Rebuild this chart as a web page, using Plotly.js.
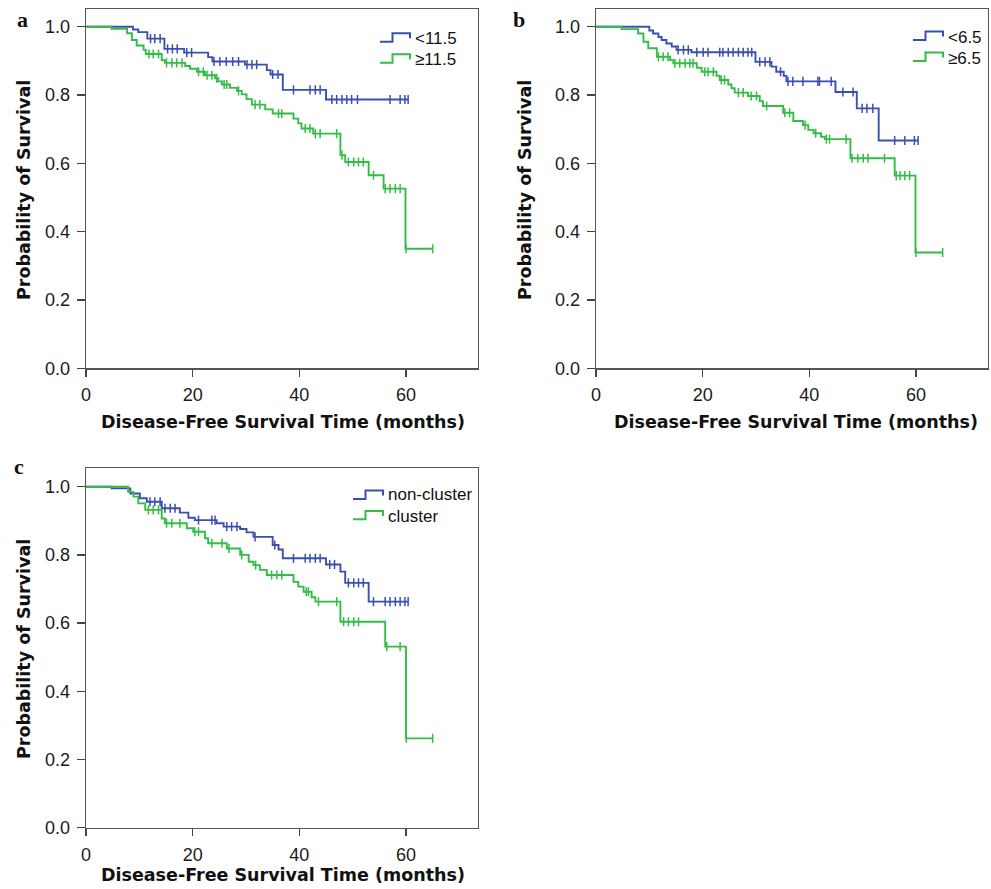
<!DOCTYPE html>
<html>
<head>
<meta charset="utf-8">
<script src="https://cdn.plot.ly/plotly-3.0.1.min.js"></script>
<style>html,body{margin:0;padding:0;background:#fff;}#chart{width:991px;height:889px;}</style>
</head>
<body>
<div id="chart"></div>
<script>
// ---------- Data ----------
// Panel a: <11.5 (blue) and >=11.5 (green)
const aLowTimes = [8.8, 9.8, 11.5, 14.7, 18.4, 22.9, 23.7, 29.8, 33.9, 34.6, 36.9, 45.0];
const aLowSurv  = [0.992, 0.984, 0.965, 0.935, 0.924, 0.911, 0.898, 0.889, 0.873, 0.860, 0.815, 0.787];
const aLowCens  = [12.1, 12.9, 13.9, 15.3, 16.2, 17.1, 18.9, 19.8, 24.0, 25.1, 26.3, 27.5, 28.6, 30.2, 31.1, 32.0, 35.0, 36.0, 38.9, 42.0, 43.0, 43.9, 46.1, 47.0, 48.0, 48.9, 49.8, 50.9, 57.0, 58.9, 59.8, 60.4];
const aHighTimes = [4.8, 7.7, 8.6, 9.5, 10.8, 11.2, 14.2, 14.8, 18.6, 19.5, 20.8, 22.3, 24.2, 24.8, 25.5, 27.0, 28.3, 29.2, 30.1, 31.1, 33.6, 35.0, 38.9, 39.8, 40.4, 42.6, 47.7, 48.6, 53.0, 55.8, 59.9];
const aHighSurv  = [0.994, 0.981, 0.961, 0.945, 0.932, 0.920, 0.902, 0.894, 0.885, 0.877, 0.868, 0.858, 0.849, 0.840, 0.831, 0.821, 0.812, 0.802, 0.788, 0.772, 0.758, 0.746, 0.731, 0.717, 0.702, 0.687, 0.624, 0.604, 0.565, 0.526, 0.350];
const aHighCens  = [11.8, 12.6, 13.6, 15.1, 16.1, 17.0, 18.0, 21.1, 22.0, 22.7, 23.6, 24.5, 25.9, 26.4, 28.6, 31.7, 32.6, 36.1, 36.7, 41.1, 42.0, 43.0, 43.9, 47.0, 48.0, 49.2, 50.2, 51.1, 52.0, 53.9, 56.1, 57.0, 58.0, 58.9, 60.0, 65.0];

// Panel b: <6.5 (blue) and >=6.5 (green)
const bLowTimes = [10.0, 10.7, 11.7, 12.3, 13.2, 14.2, 15.1, 17.9, 29.9, 32.9, 33.8, 35.2, 35.7, 44.9, 48.9, 53.0];
const bLowSurv  = [0.989, 0.980, 0.970, 0.961, 0.951, 0.942, 0.932, 0.925, 0.897, 0.883, 0.868, 0.856, 0.840, 0.809, 0.761, 0.667];
const bLowCens  = [15.4, 16.4, 17.3, 18.9, 20.1, 21.0, 23.2, 23.8, 24.8, 25.7, 26.7, 27.6, 28.5, 29.2, 30.7, 31.7, 32.6, 34.6, 36.0, 36.9, 38.8, 41.6, 41.9, 44.1, 46.3, 48.2, 49.9, 50.8, 51.9, 56.0, 57.9, 59.7, 60.4];
const bHighTimes = [4.8, 7.9, 8.9, 9.8, 11.4, 13.9, 14.5, 18.9, 19.8, 22.6, 23.2, 24.8, 25.4, 26.0, 28.5, 30.7, 31.3, 35.1, 37.0, 38.8, 39.8, 40.8, 42.2, 42.9, 47.7, 56.0, 59.9];
const bHighSurv  = [0.993, 0.980, 0.956, 0.937, 0.912, 0.902, 0.893, 0.880, 0.868, 0.856, 0.844, 0.831, 0.820, 0.807, 0.797, 0.782, 0.768, 0.748, 0.724, 0.712, 0.698, 0.688, 0.678, 0.671, 0.615, 0.564, 0.339];
const bHighCens  = [11.7, 12.6, 13.5, 14.8, 15.7, 16.7, 17.6, 18.2, 20.4, 21.0, 22.0, 23.5, 24.1, 26.7, 27.6, 29.1, 30.1, 32.0, 35.4, 36.3, 39.2, 41.2, 43.2, 43.8, 46.9, 48.0, 49.1, 50.1, 51.0, 54.1, 56.3, 57.0, 57.9, 58.8, 60.0, 65.0];

// Panel c: non-cluster (blue) and cluster (green)
const cNonTimes = [4.8, 8.3, 10.1, 11.4, 14.2, 17.6, 19.2, 20.4, 24.5, 25.8, 28.9, 30.1, 31.4, 35.0, 36.1, 36.9, 45.0, 47.7, 48.6, 53.0];
const cNonSurv  = [0.995, 0.980, 0.966, 0.956, 0.937, 0.924, 0.909, 0.902, 0.893, 0.883, 0.876, 0.866, 0.853, 0.829, 0.816, 0.790, 0.772, 0.751, 0.718, 0.663];
const cNonCens  = [12.0, 12.9, 13.9, 14.8, 15.8, 16.7, 21.1, 23.6, 24.2, 26.4, 27.3, 28.3, 31.7, 35.4, 38.9, 41.1, 42.0, 43.0, 43.9, 45.7, 46.6, 49.2, 50.2, 51.1, 52.0, 53.9, 56.1, 57.0, 58.0, 58.9, 59.8, 60.4];
const cClTimes = [7.9, 8.9, 9.8, 11.1, 14.2, 14.8, 18.9, 20.1, 22.3, 22.9, 26.4, 28.9, 30.5, 31.4, 32.6, 33.9, 38.9, 39.8, 40.8, 42.3, 43.0, 47.7, 56.1, 60.0];
const cClSurv  = [0.985, 0.971, 0.951, 0.932, 0.907, 0.893, 0.878, 0.868, 0.849, 0.834, 0.819, 0.800, 0.780, 0.770, 0.756, 0.741, 0.721, 0.707, 0.692, 0.676, 0.663, 0.604, 0.531, 0.262];
const cClCens  = [11.7, 12.6, 13.6, 15.1, 16.1, 17.6, 20.4, 21.1, 23.6, 25.5, 26.8, 29.2, 31.8, 34.8, 35.8, 36.7, 41.3, 41.7, 43.6, 47.0, 48.3, 49.2, 50.2, 51.1, 56.4, 58.9, 60.05, 65.0];

const panelLetters = ['a', 'b', 'c'];
const legendLabels = [['<11.5', '≥11.5'], ['<6.5', '≥6.5'], ['non-cluster', 'cluster']];
const xTicks = [0, 20, 40, 60];
const yTicks = [0, 0.2, 0.4, 0.6, 0.8, 1.0];
const xTitle = 'Disease-Free Survival Time (months)';
const yTitle = 'Probability of Survival';

// ---------- Styling ----------
const BLUE = '#3b4fb3';
const GREEN = '#34bd45';
const W = 991, H = 889;
const px = x => x / W;
const py = y => 1 - y / H;

function survAt(times, surv, t) {
  let s = 1;
  for (let i = 0; i < times.length; i++) { if (times[i] <= t) s = surv[i]; }
  return s;
}
function kmTraces(times, surv, cens, color, xa, ya) {
  const end = Math.max(times[times.length - 1], ...cens);
  const x = [0, ...times, end];
  const y = [1, ...surv, surv[surv.length - 1]];
  return [
    {x, y, xaxis: xa, yaxis: ya, type: 'scatter', mode: 'lines', line: {shape: 'hv', color, width: 1.9}, hoverinfo: 'skip', showlegend: false},
    {x: cens, y: cens.map(t => survAt(times, surv, t)), xaxis: xa, yaxis: ya, type: 'scatter', mode: 'markers',
     marker: {symbol: 'line-ns', size: 6.5, color, line: {color, width: 1.5}}, hoverinfo: 'skip', showlegend: false}
  ];
}

const data = [
  ...kmTraces(aLowTimes, aLowSurv, aLowCens, BLUE, 'x', 'y'),
  ...kmTraces(aHighTimes, aHighSurv, aHighCens, GREEN, 'x', 'y'),
  ...kmTraces(bLowTimes, bLowSurv, bLowCens, BLUE, 'x2', 'y2'),
  ...kmTraces(bHighTimes, bHighSurv, bHighCens, GREEN, 'x2', 'y2'),
  ...kmTraces(cNonTimes, cNonSurv, cNonCens, BLUE, 'x3', 'y3'),
  ...kmTraces(cClTimes, cClSurv, cClCens, GREEN, 'x3', 'y3'),
];

const tickFont = {family: 'Liberation Sans, Arial, sans-serif', size: 18, color: '#1a1a1a'};
function xAxis(d0, d1, anchor) {
  return {domain: [px(d0), px(d1)], anchor, range: [0, 73.5], tickmode: 'array', tickvals: xTicks,
    ticks: 'outside', ticklen: 7, tickwidth: 1.3, tickcolor: '#444', showline: true, linecolor: '#555', linewidth: 1.3,
    mirror: true, showgrid: false, zeroline: false, tickfont: tickFont, ticklabelstandoff: 3, fixedrange: true};
}
function yAxis(top, bottom, anchor, ymax) {
  return {domain: [py(bottom), py(top)], anchor, range: [0, ymax], tickmode: 'array', tickvals: yTicks, tickformat: '.1f',
    ticks: 'outside', ticklen: 8, tickwidth: 1.3, tickcolor: '#444', showline: true, linecolor: '#555', linewidth: 1.3,
    mirror: true, showgrid: false, zeroline: false, tickfont: tickFont, ticklabelstandoff: 3, fixedrange: true};
}

const titleFont = {family: 'DejaVu Sans, Verdana, sans-serif', size: 17.5, color: '#111', weight: 'bold'};
const legFont = {family: 'Liberation Sans, Arial, sans-serif', size: 17, color: '#111'};
const letterFont = {family: 'Liberation Serif, Times New Roman, serif', size: 22, color: '#111', weight: 'bold'};

const annotations = [];
const shapes = [];
function txt(text, x, y, font, opts) {
  annotations.push(Object.assign({text, x: px(x), y: py(y), xref: 'paper', yref: 'paper', showarrow: false, font,
    xanchor: 'center', yanchor: 'middle'}, opts || {}));
}
function legendSym(x0, yb, color) {
  const p = [[x0, yb], [x0 + 12.5, yb], [x0 + 12.5, yb - 8.4], [x0 + 30, yb - 8.4], [x0 + 30, yb - 3.4]];
  shapes.push({type: 'path', xref: 'paper', yref: 'paper', path: 'M' + p.map(([x, y]) => px(x) + ',' + py(y)).join(' L'),
    line: {color, width: 2}});
}

// panel letters
txt(panelLetters[0], 22, 20, letterFont);
txt(panelLetters[1], 519, 20, letterFont);
txt(panelLetters[2], 19, 466, letterFont);

// axis titles
txt(xTitle, 283, 422, titleFont);
txt(xTitle, 796, 422, titleFont);
txt(xTitle, 283, 875, titleFont);
txt(yTitle, 24, 190, titleFont, {textangle: -90});
txt(yTitle, 525, 190, titleFont, {textangle: -90});
txt(yTitle, 24, 649, titleFont, {textangle: -90});

// legends
legendSym(380, 41.7, BLUE); legendSym(380, 62.7, GREEN);
txt(legendLabels[0][0], 413, 38, legFont, {xanchor: 'left'});
txt(legendLabels[0][1], 413, 59.5, legFont, {xanchor: 'left'});
legendSym(913, 40, BLUE); legendSym(913, 61, GREEN);
txt(legendLabels[1][0], 946, 37.7, legFont, {xanchor: 'left'});
txt(legendLabels[1][1], 946, 58.5, legFont, {xanchor: 'left'});
legendSym(353, 499, BLUE); legendSym(353, 519.3, GREEN);
txt(legendLabels[2][0], 386, 494, legFont, {xanchor: 'left'});
txt(legendLabels[2][1], 386, 516, legFont, {xanchor: 'left'});

const layout = {
  width: W, height: H, margin: {l: 0, r: 0, t: 0, b: 0}, paper_bgcolor: '#fff', plot_bgcolor: '#fff', showlegend: false,
  xaxis: xAxis(86, 478, 'y'), yaxis: yAxis(9, 368.3, 'x', 1.0518),
  xaxis2: xAxis(596, 988, 'y2'), yaxis2: yAxis(9, 368.3, 'x2', 1.0518),
  xaxis3: xAxis(86, 478, 'y3'), yaxis3: yAxis(468.3, 827.7, 'x3', 1.054),
  annotations, shapes
};
Plotly.newPlot('chart', data, layout, {displayModeBar: false, staticPlot: true});
</script>
</body>
</html>
